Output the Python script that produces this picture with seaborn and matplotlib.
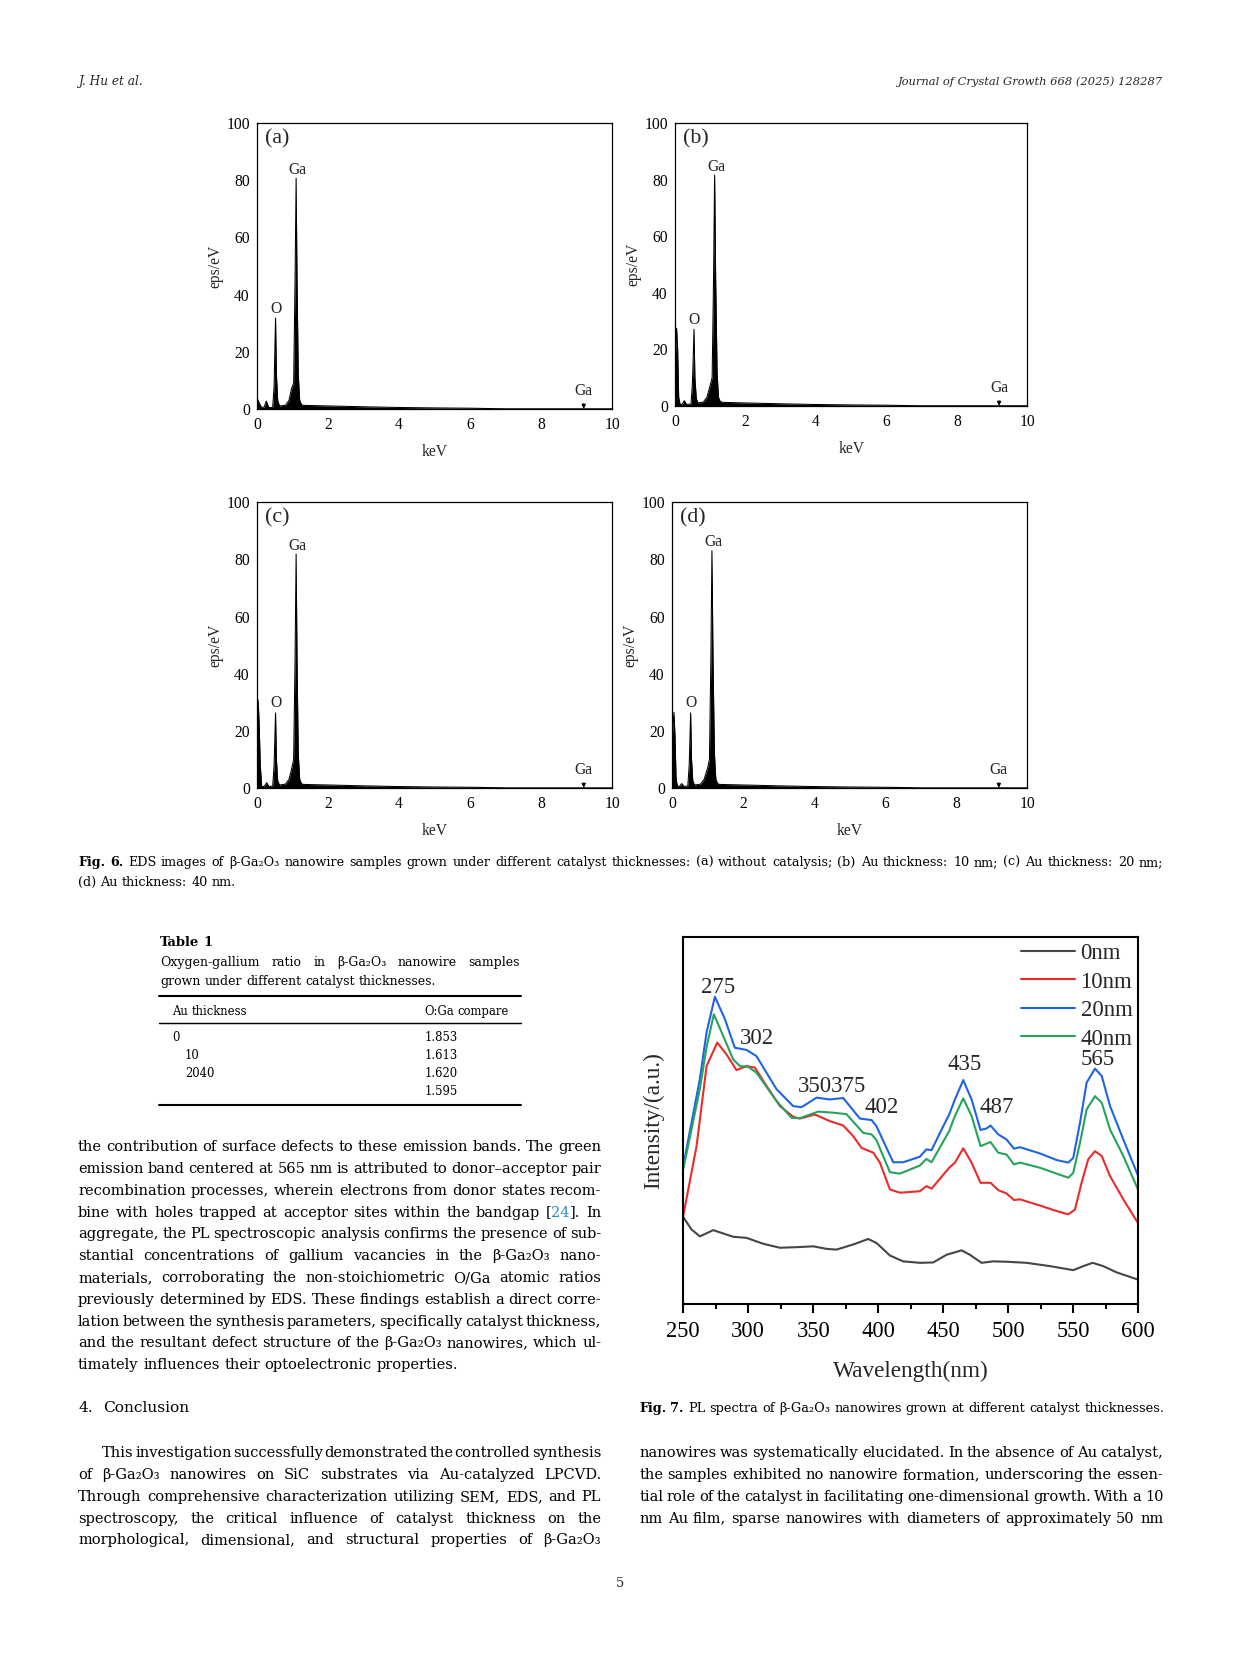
import re
import numpy as np
import pandas as pd
import matplotlib
matplotlib.use("Agg")
import matplotlib.pyplot as plt
from matplotlib.lines import Line2D
import seaborn as sns

# ---- Fig. 6: EDS spectra, keV vs eps/eV ----
a_kev = [0.0, 0.04, 0.12, 0.20, 0.26, 0.33, 0.44, 0.48, 0.50, 0.52, 0.545, 0.58, 0.63, 0.80, 0.90, 0.97,
         1.03, 1.07, 1.10, 1.125, 1.16, 1.20, 1.25, 1.30, 2.0, 3.0, 4.0, 5.0, 6.0, 6.7, 7.0, 10.0]
a_cps = [3.8, 2.5, 0.5, 0.6, 2.7, 0.4, 0.5, 8.0, 20.0, 31.7, 12.0, 3.0, 1.0, 1.2, 3.0, 7.0,
         9.0, 45.0, 80.6, 45.0, 12.0, 3.0, 1.5, 1.2, 1.0, 0.7, 0.45, 0.3, 0.2, 0.05, 0.0, 0.0]

b_kev = [0.0, 0.02, 0.04, 0.07, 0.10, 0.14, 0.20, 0.26, 0.32, 0.45, 0.49, 0.515, 0.535, 0.56, 0.60, 0.65, 0.80,
         0.90, 0.99, 1.05, 1.09, 1.12, 1.15, 1.19, 1.23, 1.28, 1.35, 2.0, 3.0, 4.0, 5.0, 6.0, 6.7, 7.0, 10.0]
b_cps = [15.0, 22.0, 27.4, 20.0, 3.0, 0.5, 0.5, 1.8, 0.5, 0.6, 8.0, 18.0, 27.0, 10.0, 2.5, 1.0, 1.3,
         3.0, 7.0, 10.0, 45.0, 81.5, 45.0, 12.0, 3.0, 1.5, 1.2, 1.0, 0.7, 0.45, 0.3, 0.2, 0.05, 0.0, 0.0]

c_kev = [0.0, 0.015, 0.03, 0.06, 0.09, 0.13, 0.20, 0.27, 0.33, 0.44, 0.48, 0.50, 0.52, 0.545, 0.58, 0.63, 0.80,
         0.90, 0.98, 1.03, 1.07, 1.10, 1.125, 1.16, 1.20, 1.25, 1.30, 2.0, 3.0, 4.0, 5.0, 6.0, 6.8, 7.0, 10.0]
c_cps = [17.0, 25.0, 30.8, 22.0, 8.0, 0.5, 0.5, 1.8, 0.5, 0.6, 8.0, 17.0, 26.2, 10.0, 2.5, 1.0, 1.3,
         3.0, 7.0, 10.0, 45.0, 81.7, 45.0, 12.0, 3.0, 1.5, 1.2, 1.0, 0.7, 0.45, 0.3, 0.2, 0.05, 0.0, 0.0]

d_kev = [0.0, 0.025, 0.05, 0.08, 0.11, 0.15, 0.20, 0.27, 0.33, 0.44, 0.48, 0.50, 0.52, 0.545, 0.58, 0.63, 0.80,
         0.90, 1.00, 1.05, 1.09, 1.12, 1.15, 1.19, 1.23, 1.28, 1.33, 2.0, 3.0, 4.0, 5.0, 6.0, 6.8, 7.0, 10.0]
d_cps = [16.0, 22.0, 26.4, 18.0, 3.0, 0.5, 0.5, 1.5, 0.5, 0.6, 8.0, 17.0, 26.2, 10.0, 2.5, 1.0, 1.3,
         3.0, 7.0, 10.0, 45.0, 82.9, 45.0, 12.0, 3.0, 1.5, 1.2, 1.0, 0.7, 0.45, 0.3, 0.2, 0.05, 0.0, 0.0]

eds_labels = ["(a)", "(b)", "(c)", "(d)"]
eds_ticks_x = [0, 2, 4, 6, 8, 10]
eds_ticks_y = [0, 20, 40, 60, 80, 100]
ga_line_kev = 9.2

# ---- Fig. 7: PL spectra, wavelength (nm) vs intensity (a.u., 0-100 of the frame) ----
gray_wl = [250, 256.4, 262.8, 273.1, 280.8, 288.5, 298.7, 311.5, 324.4, 339.7, 350.0, 360.3, 367.9, 380.8, 392.3,
           398.7, 409.0, 419.2, 432.1, 442.3, 452.6, 464.1, 470.5, 479.5, 488.5, 498.7, 514.1, 532.1, 550.0, 557.7,
           564.9, 573.1, 583.3, 600]
gray_int = [23.7, 20.3, 18.4, 20.1, 19.2, 18.3, 18.0, 16.4, 15.3, 15.5, 15.7, 15.0, 14.8, 16.2, 17.7,
            16.6, 13.2, 11.6, 11.2, 11.3, 13.4, 14.6, 13.4, 11.2, 11.6, 11.5, 11.2, 10.3, 9.2, 10.3,
            11.2, 10.3, 8.6, 6.6]

red_wl = [250, 260.3, 268.0, 276.2, 283.3, 291.0, 298.7, 305.1, 314.1, 324.4, 334.6, 339.7, 351.3, 362.8, 373.1,
          380.8, 387.2, 396.2, 401.3, 409.0, 416.7, 432.0, 437.1, 441.0, 454.6, 459.0, 465.4, 471.8, 478.7, 486.4,
          492.3, 498.7, 504.4, 509.0, 524.4, 537.2, 546.2, 551.3, 556.4, 561.5, 566.7, 571.9, 578.3, 588.5, 600]
red_int = [23.9, 43.0, 64.8, 71.2, 68.0, 63.7, 64.8, 64.4, 59.4, 53.9, 51.0, 50.5, 51.6, 49.8, 48.6,
           45.7, 42.5, 41.2, 38.5, 31.2, 30.3, 30.7, 32.1, 31.4, 37.1, 38.5, 42.4, 38.5, 33.0, 33.0,
           31.0, 30.1, 28.3, 28.5, 26.8, 25.3, 24.4, 25.7, 33.0, 39.4, 41.6, 40.3, 34.8, 28.5, 21.9]

blue_wl = [250, 262.8, 268.0, 274.4, 282.1, 289.7, 298.7, 306.4, 321.8, 334.6, 341.0, 352.6, 362.8, 373.1, 385.9,
           394.9, 398.7, 411.5, 419.2, 432.0, 437.1, 441.0, 450.0, 454.6, 459.0, 465.4, 471.8, 478.7, 483.3, 486.4,
           492.3, 498.7, 504.4, 509.0, 524.4, 537.2, 546.2, 550.0, 555.2, 560.3, 566.7, 571.9, 578.3, 588.5, 600]
blue_int = [37.5, 61.2, 74.0, 83.7, 77.6, 69.8, 69.2, 67.5, 58.5, 53.9, 53.6, 56.2, 55.7, 56.1, 50.5,
            50.1, 48.4, 38.6, 38.6, 40.1, 42.1, 41.9, 48.4, 51.6, 55.7, 61.0, 55.7, 47.4, 47.8, 48.6,
            46.2, 44.8, 42.3, 42.7, 41.0, 39.2, 38.5, 39.8, 49.4, 60.3, 64.1, 62.1, 53.9, 44.8, 34.8]

green_wl = [250, 262.8, 268.0, 273.6, 280.8, 288.5, 293.6, 300.0, 306.4, 321.8, 333.3, 339.7, 353.8, 365.4, 375.6,
            388.5, 394.9, 398.7, 409.0, 416.7, 432.0, 437.1, 441.0, 454.6, 459.0, 465.4, 471.8, 478.7, 486.4, 492.3,
            498.7, 504.4, 509.0, 524.4, 537.2, 546.2, 550.0, 555.2, 560.3, 566.7, 571.9, 578.3, 588.5, 600]
green_int = [36.6, 58.5, 70.0, 78.9, 73.0, 66.6, 64.8, 64.6, 63.0, 55.3, 50.7, 50.6, 52.4, 52.1, 51.7,
             46.6, 46.2, 44.6, 35.9, 35.5, 37.7, 39.5, 38.6, 47.1, 51.2, 56.0, 51.2, 43.0, 44.1, 41.2,
             40.7, 38.0, 38.5, 37.1, 35.5, 34.4, 35.7, 43.9, 53.0, 56.6, 54.8, 47.5, 40.3, 31.0]

pl_names = ["0nm", "10nm", "20nm", "40nm"]
pl_colors = ["#454545", "#ec2a2a", "#1f63e6", "#26a35a"]
pl_ticks = [250, 300, 350, 400, 450, 500, 550, 600]

peak_text = ["275", "302", "350375", "402", "435", "487", "565"]
peak_text_wl = [277, 306.4, 364.1, 402.6, 466.2, 491.0, 568.5]
peak_text_int = [86.2, 72.5, 59.4, 53.5, 65.3, 53.5, 66.6]

# ---- Table 1 ----
tbl_au = ["0", "10", "2040", ""]
tbl_ratio = ["1.853", "1.613", "1.620", "1.595"]

# ---- page text ----
header_left = "J. Hu et al."
header_right = "Journal of Crystal Growth 668 (2025) 128287"
fig6_cap = [
    "*Fig.* *6.* EDS images of β-Ga₂O₃ nanowire samples grown under different catalyst thicknesses: "
    "(a) without catalysis; (b) Au thickness: 10 nm; (c) Au thickness: 20 nm;",
    "(d) Au thickness: 40 nm.",
]
tbl_cap = ["Oxygen-gallium ratio in β-Ga₂O₃ nanowire samples", "grown under different catalyst thicknesses."]
body_left = [
    "the contribution of surface defects to these emission bands. The green",
    "emission band centered at 565 nm is attributed to donor–acceptor pair",
    "recombination processes, wherein electrons from donor states recom-",
    "bine with holes trapped at acceptor sites within the bandgap [{24}]. In",
    "aggregate, the PL spectroscopic analysis confirms the presence of sub-",
    "stantial concentrations of gallium vacancies in the β-Ga₂O₃ nano-",
    "materials, corroborating the non-stoichiometric O/Ga atomic ratios",
    "previously determined by EDS. These findings establish a direct corre-",
    "lation between the synthesis parameters, specifically catalyst thickness,",
    "and the resultant defect structure of the β-Ga₂O₃ nanowires, which ul-",
    "timately influences their optoelectronic properties.",
]
concl_left = [
    "This investigation successfully demonstrated the controlled synthesis",
    "of β-Ga₂O₃ nanowires on SiC substrates via Au-catalyzed LPCVD.",
    "Through comprehensive characterization utilizing SEM, EDS, and PL",
    "spectroscopy, the critical influence of catalyst thickness on the",
    "morphological, dimensional, and structural properties of β-Ga₂O₃",
]
concl_right = [
    "nanowires was systematically elucidated. In the absence of Au catalyst,",
    "the samples exhibited no nanowire formation, underscoring the essen-",
    "tial role of the catalyst in facilitating one-dimensional growth. With a 10",
    "nm Au film, sparse nanowires with diameters of approximately 50 nm",
]
fig7_cap = "*Fig.* *7.* PL spectra of β-Ga₂O₃ nanowires grown at different catalyst thicknesses."

W, H, DPI = 1241, 1654, 150
BODY = ["DejaVu Serif", "DejaVu Sans"]
LINK = "#2a89c8"

sns.set_theme(style="white")
plt.rcParams["font.family"] = ["Liberation Serif", "DejaVu Serif"]
plt.rcParams["axes.edgecolor"] = "black"
plt.rcParams["xtick.color"] = "black"
plt.rcParams["ytick.color"] = "black"

fig = plt.figure(figsize=((W + 0.3) / DPI, (H + 0.3) / DPI), dpi=DPI)
rend = fig.canvas.get_renderer()


def fx(x):
    return x / W


def fy(y):
    return 1 - y / H


def add_axes(l, t, r, b):
    return fig.add_axes([fx(l), fy(b), (r - l) / W, (b - t) / H])


def text_line(s, x0, y, size, x1=None, style="normal"):
    # draws one line word by word; *word* is bold, {..} is a blue link; x1 given -> justified
    pieces = []
    for w in s.split(" "):
        bold = w.startswith("*") and w.endswith("*") and len(w) > 2
        if bold:
            w = w[1:-1]
        arts = []
        for p in re.split(r"(\{[^}]*\})", w):
            if not p:
                continue
            col = LINK if p.startswith("{") else "black"
            t = fig.text(0, fy(y), p.strip("{}"), fontsize=size, family=BODY, color=col, style=style,
                         weight="bold" if bold else "normal", ha="left", va="baseline")
            arts.append(t)
        pieces.append(arts)
    widths = [[a.get_window_extent(rend).width for a in arts] for arts in pieces]
    total = sum(sum(ws) for ws in widths)
    gap = 0.32 * size * DPI / 72
    if x1 is not None and len(pieces) > 1:
        gap = (x1 - x0 - total) / (len(pieces) - 1)
    x = x0
    for arts, ws in zip(pieces, widths):
        for a, wd in zip(arts, ws):
            a.set_x(fx(x))
            x += wd
        x += gap


def hrule(x0, x1, y, lw):
    fig.add_artist(Line2D([fx(x0), fx(x1)], [fy(y), fy(y)], color="black", lw=lw, transform=fig.transFigure))


# ---------- Fig. 6 EDS panels ----------
eds_boxes = [(257, 123, 612, 409), (675, 123, 1027, 406), (257, 502, 612, 788), (672, 502, 1027, 788)]
eds_data = [(a_kev, a_cps), (b_kev, b_cps), (c_kev, c_cps), (d_kev, d_cps)]

for lab, (kev, cps), box in zip(eds_labels, eds_data, eds_boxes):
    ax = add_axes(*box)
    ax.fill_between(kev, cps, 0, color="black", lw=0)
    sns.lineplot(x=kev, y=cps, color="black", lw=0.5, ax=ax)
    ax.set_xlim(0, 10)
    ax.set_ylim(0, 100)
    ax.set_xticks(eds_ticks_x)
    ax.set_yticks(eds_ticks_y)
    ax.tick_params(length=0, labelsize=7.5)
    ax.tick_params(axis="x", pad=4)
    ax.tick_params(axis="y", pad=3.5)
    ax.set_xlabel("keV", fontsize=7.5, labelpad=5)
    ax.set_ylabel("eps/eV", fontsize=7.5, labelpad=1.5)
    for sp in ax.spines.values():
        sp.set_visible(True)
        sp.set_linewidth(0.6)
        sp.set_color("black")
    ax.text(0.022, 0.978, lab, transform=ax.transAxes, ha="left", va="top", fontsize=10.5)
    kev_a, cps_a = np.array(kev), np.array(cps)
    o_mask = (kev_a > 0.4) & (kev_a < 0.7)
    g_mask = (kev_a > 0.9) & (kev_a < 1.3)
    o_i = np.argmax(np.where(o_mask, cps_a, -1))
    g_i = np.argmax(np.where(g_mask, cps_a, -1))
    ax.text(kev_a[o_i] + 0.01, cps_a[o_i] + 0.6, "O", ha="center", va="bottom", fontsize=7.5)
    ax.text(kev_a[g_i] + 0.05, cps_a[g_i] + 0.3, "Ga", ha="center", va="bottom", fontsize=7.5)
    ax.annotate("Ga", xy=(ga_line_kev, 0), xytext=(ga_line_kev, 3.4), ha="center", va="bottom", fontsize=7.5,
                arrowprops=dict(arrowstyle="-|>", lw=0.5, color="black", mutation_scale=4, shrinkA=0, shrinkB=0))

# ---------- Fig. 7 PL spectra ----------
pl = pd.concat([
    pd.DataFrame({"wl": gray_wl, "I": gray_int, "sample": pl_names[0]}),
    pd.DataFrame({"wl": red_wl, "I": red_int, "sample": pl_names[1]}),
    pd.DataFrame({"wl": blue_wl, "I": blue_int, "sample": pl_names[2]}),
    pd.DataFrame({"wl": green_wl, "I": green_int, "sample": pl_names[3]}),
])
ax = add_axes(683, 937, 1138, 1304)
sns.lineplot(data=pl, x="wl", y="I", hue="sample", hue_order=pl_names, palette=pl_colors,
             estimator=None, lw=1.0, ax=ax)
ax.set_xlim(250, 600)
ax.set_ylim(0, 100)
ax.set_xticks(pl_ticks)
ax.set_xticks([t + 25 for t in pl_ticks[:-1]], minor=True)
ax.set_yticks([])
ax.tick_params(axis="x", which="major", direction="out", length=4.5, width=1.0, bottom=True,
               labelsize=10.8, pad=3.5)
ax.tick_params(axis="x", which="minor", direction="out", length=2.5, width=1.0, bottom=True)
for sp in ax.spines.values():
    sp.set_visible(True)
    sp.set_linewidth(1.0)
    sp.set_color("black")
ax.set_xlabel("Wavelength(nm)", fontsize=11.2, labelpad=9)
ax.set_ylabel("Intensity/(a.u.)", fontsize=11.2, labelpad=9)
for s, xw, yi in zip(peak_text, peak_text_wl, peak_text_int):
    ax.text(xw, yi, s, ha="center", va="center", fontsize=11)
h, l = ax.get_legend_handles_labels()
ax.legend(h, l, loc="upper right", frameon=False, fontsize=11, handlelength=2.35,
          handletextpad=0.25, labelspacing=0.33, borderaxespad=0.05, borderpad=0.2)

# ---------- page text ----------
fig.text(fx(78), fy(85), header_left, fontsize=5.8, family=BODY, style="italic", ha="left", va="baseline")
fig.text(fx(1163), fy(85), header_right, fontsize=5.5, family=BODY, style="italic", ha="right", va="baseline")

text_line(fig6_cap[0], 78, 866, 6.15, x1=1163)
text_line(fig6_cap[1], 78, 886, 6.15)

# Table 1
text_line("*Table* *1*", 160, 946, 6.3)
text_line(tbl_cap[0], 160, 966, 6.0, x1=520)
text_line(tbl_cap[1], 160, 985, 6.0)
hrule(159, 521, 996, 1.0)
text_line("Au thickness", 172, 1015, 5.6)
text_line("O:Ga compare", 424, 1015, 5.6)
hrule(159, 521, 1023, 0.7)
tbl_x = [172, 185, 185, 185]
for i, (au, r) in enumerate(zip(tbl_au, tbl_ratio)):
    yy = 1041 + 18 * i
    if au:
        text_line(au, tbl_x[i], yy, 5.6)
    text_line(r, 424, yy, 5.6)
hrule(159, 521, 1105, 1.0)

for i, s in enumerate(body_left):
    last = i == len(body_left) - 1
    text_line(s, 78, 1151 + 21.8 * i, 7.0, x1=None if last else 601)

text_line("4.  Conclusion", 78, 1412, 7.4)
for i, s in enumerate(concl_left):
    text_line(s, 102 if i == 0 else 78, 1457 + 21.8 * i, 7.0, x1=601)
for i, s in enumerate(concl_right):
    text_line(s, 639, 1457 + 21.8 * i, 7.0, x1=1163)

text_line(fig7_cap, 639, 1412, 6.2)
fig.text(fx(620), fy(1587), "5", fontsize=6.2, family=BODY, ha="center", va="baseline")

fig.savefig("out.png", dpi=DPI)
